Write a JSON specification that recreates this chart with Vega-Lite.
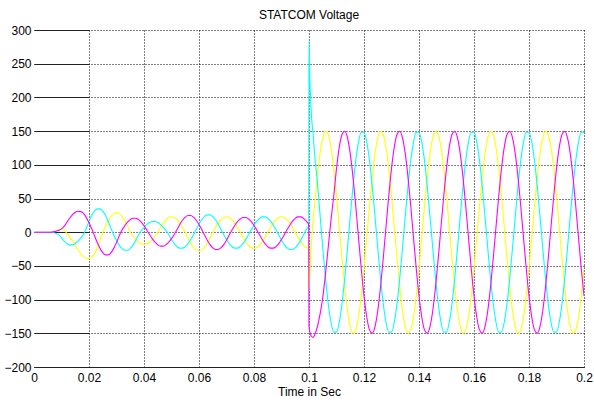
{
  "$schema": "https://vega.github.io/schema/vega-lite/v6.json",
  "width": 550,
  "height": 337,
  "autosize": "none",
  "padding": {"left": 34, "top": 30, "right": 10, "bottom": 36},
  "background": "white",
  "title": {"text": "STATCOM Voltage", "font": "Liberation Sans", "fontSize": 12, "fontWeight": "normal", "color": "#000", "anchor": "middle", "offset": 2},
  "data": {"values": [
    {"t":0,"M":0,"C":0,"Y":0},{"t":0.001,"M":0,"C":0,"Y":0},{"t":0.002,"M":0,"C":0,"Y":0},{"t":0.003,"M":0,"C":0,"Y":0},
    {"t":0.004,"M":0,"C":0,"Y":0},{"t":0.005,"M":0,"C":0,"Y":0},{"t":0.006,"M":0,"C":0,"Y":0},
    {"t":0.007,"M":0.5,"C":-0.5,"Y":0.3},{"t":0.008,"M":1.5,"C":-2,"Y":1.5},{"t":0.009,"M":3,"C":-4,"Y":3.5},
    {"t":0.010,"M":5,"C":-8,"Y":5},{"t":0.011,"M":9,"C":-13.4,"Y":3},{"t":0.012,"M":15,"C":-16.9,"Y":-2},
    {"t":0.013,"M":21,"C":-18.8,"Y":-7},{"t":0.014,"M":26,"C":-18.8,"Y":-13},{"t":0.015,"M":29.5,"C":-16.9,"Y":-19},
    {"t":0.016,"M":31,"C":-13.4,"Y":-26},{"t":0.017,"M":30.5,"C":-8.6,"Y":-32},{"t":0.018,"M":28,"C":-3,"Y":-36.5},
    {"t":0.019,"M":22,"C":5.5,"Y":-38.7},{"t":0.020,"M":14,"C":15.9,"Y":-39},{"t":0.021,"M":5,"C":24.7,"Y":-37},
    {"t":0.022,"M":-5.3,"C":31.2,"Y":-31.5},{"t":0.023,"M":-15.4,"C":34.6,"Y":-23},{"t":0.024,"M":-24,"C":34.6,"Y":-12},
    {"t":0.025,"M":-30.3,"C":31.2,"Y":0},{"t":0.026,"M":-33.6,"C":24.7,"Y":9},{"t":0.027,"M":-33.6,"C":15.9,"Y":17.1},
    {"t":0.028,"M":-30.3,"C":5.5,"Y":23.5},{"t":0.029,"M":-24,"C":-4.2,"Y":27.6},{"t":0.030,"M":-15.4,"C":-12.3,"Y":29},
    {"t":0.031,"M":-5.3,"C":-19.1,"Y":27.6},{"t":0.032,"M":3.3,"C":-24.1,"Y":23.5},{"t":0.033,"M":9.5,"C":-26.7,"Y":17.1},
    {"t":0.034,"M":14.8,"C":-26.7,"Y":9},{"t":0.035,"M":18.7,"C":-24.1,"Y":0},{"t":0.036,"M":20.7,"C":-19.1,"Y":-5.6},
    {"t":0.037,"M":20.7,"C":-12.3,"Y":-10.6},{"t":0.038,"M":18.7,"C":-4.2,"Y":-14.6},{"t":0.039,"M":14.8,"C":2.5,"Y":-17.1},
    {"t":0.040,"M":9.5,"C":7.3,"Y":-18},{"t":0.041,"M":3.3,"C":11.3,"Y":-17.1},{"t":0.042,"M":-3.3,"C":14.3,"Y":-14.6},
    {"t":0.043,"M":-9.5,"C":15.8,"Y":-10.6},{"t":0.044,"M":-14.8,"C":15.8,"Y":-5.6},{"t":0.045,"M":-18.7,"C":14.3,"Y":0},
    {"t":0.046,"M":-20.7,"C":11.3,"Y":7.1},{"t":0.047,"M":-20.7,"C":7.3,"Y":13.5},{"t":0.048,"M":-18.7,"C":2.5,"Y":18.6},
    {"t":0.049,"M":-14.8,"C":-3.7,"Y":21.9},{"t":0.050,"M":-9.5,"C":-10.9,"Y":23},{"t":0.051,"M":-3.3,"C":-17,"Y":21.9},
    {"t":0.052,"M":3.9,"C":-21.4,"Y":18.6},{"t":0.053,"M":11.4,"C":-23.7,"Y":13.5},{"t":0.054,"M":17.7,"C":-23.7,"Y":7.1},
    {"t":0.055,"M":22.3,"C":-21.4,"Y":0},{"t":0.056,"M":24.7,"C":-17,"Y":-8.7},{"t":0.057,"M":24.7,"C":-10.9,"Y":-16.5},
    {"t":0.058,"M":22.3,"C":-3.7,"Y":-22.7},{"t":0.059,"M":17.7,"C":4.1,"Y":-26.6},{"t":0.060,"M":11.4,"C":11.8,"Y":-28},
    {"t":0.061,"M":3.9,"C":18.4,"Y":-26.6},{"t":0.062,"M":-4.1,"C":23.2,"Y":-22.7},{"t":0.063,"M":-11.8,"C":25.7,"Y":-16.5},
    {"t":0.064,"M":-18.4,"C":25.7,"Y":-8.7},{"t":0.065,"M":-23.2,"C":23.2,"Y":0},{"t":0.066,"M":-25.7,"C":18.4,"Y":7.1},
    {"t":0.067,"M":-25.7,"C":11.8,"Y":13.5},{"t":0.068,"M":-23.2,"C":4.1,"Y":18.6},{"t":0.069,"M":-18.4,"C":-3.7,"Y":21.9},
    {"t":0.070,"M":-11.8,"C":-10.9,"Y":23},{"t":0.071,"M":-4.1,"C":-17,"Y":21.9},{"t":0.072,"M":3.4,"C":-21.4,"Y":18.6},
    {"t":0.073,"M":10,"C":-23.7,"Y":13.5},{"t":0.074,"M":15.6,"C":-23.7,"Y":7.1},{"t":0.075,"M":19.6,"C":-21.4,"Y":0},
    {"t":0.076,"M":21.7,"C":-17,"Y":-7.4},{"t":0.077,"M":21.7,"C":-10.9,"Y":-14.1},{"t":0.078,"M":19.6,"C":-3.7,"Y":-19.4},
    {"t":0.079,"M":15.6,"C":3.6,"Y":-22.8},{"t":0.080,"M":10,"C":10.4,"Y":-24},{"t":0.081,"M":3.4,"C":16.3,"Y":-22.8},
    {"t":0.082,"M":-3.7,"C":20.5,"Y":-19.4},{"t":0.083,"M":-10.9,"C":22.7,"Y":-14.1},{"t":0.084,"M":-17,"C":22.7,"Y":-7.4},
    {"t":0.085,"M":-21.4,"C":20.5,"Y":0},{"t":0.086,"M":-23.7,"C":16.3,"Y":7.1},{"t":0.087,"M":-23.7,"C":10.4,"Y":13.5},
    {"t":0.088,"M":-21.4,"C":3.6,"Y":18.6},{"t":0.089,"M":-17,"C":-4.1,"Y":21.9},{"t":0.090,"M":-10.9,"C":-11.8,"Y":23},
    {"t":0.091,"M":-3.7,"C":-18.4,"Y":21.9},{"t":0.092,"M":3.6,"C":-23.2,"Y":18.6},{"t":0.093,"M":10.4,"C":-25.7,"Y":13.5},
    {"t":0.094,"M":16.3,"C":-25.7,"Y":7.1},{"t":0.095,"M":20.5,"C":-23.2,"Y":0},{"t":0.096,"M":22.7,"C":-18.4,"Y":-7.4},
    {"t":0.097,"M":22.7,"C":-11.8,"Y":-14.1},{"t":0.098,"M":20.5,"C":-4.1,"Y":-19.4},{"t":0.099,"M":16.3,"C":3.9,"Y":-22.8},
    {"t":0.0999,"M":11.1,"C":10.6,"Y":-24},
    {"t":0.1,"M":-140,"C":284,"Y":-86},
    {"t":0.1003,"C":228},
    {"t":0.1005,"M":-151,"Y":-46},
    {"t":0.1006,"C":196},
    {"t":0.101,"M":-155,"C":166,"Y":-8},
    {"t":0.1015,"M":-156,"C":146},
    {"t":0.102,"M":-153,"C":118,"Y":38.8},
    {"t":0.103,"M":-141,"C":76,"Y":81.7},
    {"t":0.104,"M":-122,"C":27,"Y":116.6},
    {"t":0.105,"M":-97,"C":-23.5,"Y":140},
    {"t":0.106,"M":-62,"C":-68.1,"Y":149.8},
    {"t":0.107,"M":-22,"C":-106.1,"Y":144.9},
    {"t":0.108,"M":18,"C":-133.6,"Y":125.8},
    {"t":0.109,"M":53.8,"C":-148.2,"Y":94.4},
    {"t":0.110,"C":-148.2,"M":94.4,"Y":53.8},{"t":0.111,"C":-133.6,"M":125.8,"Y":7.8},{"t":0.112,"C":-106.1,"M":144.9,"Y":-38.8},
    {"t":0.113,"C":-68.1,"M":149.8,"Y":-81.7},{"t":0.114,"C":-23.5,"M":140,"Y":-116.6},{"t":0.115,"C":23.5,"M":116.6,"Y":-140},
    {"t":0.116,"C":68.1,"M":81.7,"Y":-149.8},{"t":0.117,"C":106.1,"M":38.8,"Y":-144.9},{"t":0.118,"C":133.6,"M":-7.8,"Y":-125.8},
    {"t":0.119,"C":148.2,"M":-53.8,"Y":-94.4},
    {"t":0.120,"C":148.2,"M":-94.4,"Y":-53.8},{"t":0.121,"C":133.6,"M":-125.8,"Y":-7.8},{"t":0.122,"C":106.1,"M":-144.9,"Y":38.8},
    {"t":0.123,"C":68.1,"M":-149.8,"Y":81.7},{"t":0.124,"C":23.5,"M":-140,"Y":116.6},{"t":0.125,"C":-23.5,"M":-116.6,"Y":140},
    {"t":0.126,"C":-68.1,"M":-81.7,"Y":149.8},{"t":0.127,"C":-106.1,"M":-38.8,"Y":144.9},{"t":0.128,"C":-133.6,"M":7.8,"Y":125.8},
    {"t":0.129,"C":-148.2,"M":53.8,"Y":94.4},
    {"t":0.130,"C":-148.2,"M":94.4,"Y":53.8},{"t":0.131,"C":-133.6,"M":125.8,"Y":7.8},{"t":0.132,"C":-106.1,"M":144.9,"Y":-38.8},
    {"t":0.133,"C":-68.1,"M":149.8,"Y":-81.7},{"t":0.134,"C":-23.5,"M":140,"Y":-116.6},{"t":0.135,"C":23.5,"M":116.6,"Y":-140},
    {"t":0.136,"C":68.1,"M":81.7,"Y":-149.8},{"t":0.137,"C":106.1,"M":38.8,"Y":-144.9},{"t":0.138,"C":133.6,"M":-7.8,"Y":-125.8},
    {"t":0.139,"C":148.2,"M":-53.8,"Y":-94.4},
    {"t":0.140,"C":148.2,"M":-94.4,"Y":-53.8},{"t":0.141,"C":133.6,"M":-125.8,"Y":-7.8},{"t":0.142,"C":106.1,"M":-144.9,"Y":38.8},
    {"t":0.143,"C":68.1,"M":-149.8,"Y":81.7},{"t":0.144,"C":23.5,"M":-140,"Y":116.6},{"t":0.145,"C":-23.5,"M":-116.6,"Y":140},
    {"t":0.146,"C":-68.1,"M":-81.7,"Y":149.8},{"t":0.147,"C":-106.1,"M":-38.8,"Y":144.9},{"t":0.148,"C":-133.6,"M":7.8,"Y":125.8},
    {"t":0.149,"C":-148.2,"M":53.8,"Y":94.4},
    {"t":0.150,"C":-148.2,"M":94.4,"Y":53.8},{"t":0.151,"C":-133.6,"M":125.8,"Y":7.8},{"t":0.152,"C":-106.1,"M":144.9,"Y":-38.8},
    {"t":0.153,"C":-68.1,"M":149.8,"Y":-81.7},{"t":0.154,"C":-23.5,"M":140,"Y":-116.6},{"t":0.155,"C":23.5,"M":116.6,"Y":-140},
    {"t":0.156,"C":68.1,"M":81.7,"Y":-149.8},{"t":0.157,"C":106.1,"M":38.8,"Y":-144.9},{"t":0.158,"C":133.6,"M":-7.8,"Y":-125.8},
    {"t":0.159,"C":148.2,"M":-53.8,"Y":-94.4},
    {"t":0.160,"C":148.2,"M":-94.4,"Y":-53.8},{"t":0.161,"C":133.6,"M":-125.8,"Y":-7.8},{"t":0.162,"C":106.1,"M":-144.9,"Y":38.8},
    {"t":0.163,"C":68.1,"M":-149.8,"Y":81.7},{"t":0.164,"C":23.5,"M":-140,"Y":116.6},{"t":0.165,"C":-23.5,"M":-116.6,"Y":140},
    {"t":0.166,"C":-68.1,"M":-81.7,"Y":149.8},{"t":0.167,"C":-106.1,"M":-38.8,"Y":144.9},{"t":0.168,"C":-133.6,"M":7.8,"Y":125.8},
    {"t":0.169,"C":-148.2,"M":53.8,"Y":94.4},
    {"t":0.170,"C":-148.2,"M":94.4,"Y":53.8},{"t":0.171,"C":-133.6,"M":125.8,"Y":7.8},{"t":0.172,"C":-106.1,"M":144.9,"Y":-38.8},
    {"t":0.173,"C":-68.1,"M":149.8,"Y":-81.7},{"t":0.174,"C":-23.5,"M":140,"Y":-116.6},{"t":0.175,"C":23.5,"M":116.6,"Y":-140},
    {"t":0.176,"C":68.1,"M":81.7,"Y":-149.8},{"t":0.177,"C":106.1,"M":38.8,"Y":-144.9},{"t":0.178,"C":133.6,"M":-7.8,"Y":-125.8},
    {"t":0.179,"C":148.2,"M":-53.8,"Y":-94.4},
    {"t":0.180,"C":148.2,"M":-94.4,"Y":-53.8},{"t":0.181,"C":133.6,"M":-125.8,"Y":-7.8},{"t":0.182,"C":106.1,"M":-144.9,"Y":38.8},
    {"t":0.183,"C":68.1,"M":-149.8,"Y":81.7},{"t":0.184,"C":23.5,"M":-140,"Y":116.6},{"t":0.185,"C":-23.5,"M":-116.6,"Y":140},
    {"t":0.186,"C":-68.1,"M":-81.7,"Y":149.8},{"t":0.187,"C":-106.1,"M":-38.8,"Y":144.9},{"t":0.188,"C":-133.6,"M":7.8,"Y":125.8},
    {"t":0.189,"C":-148.2,"M":53.8,"Y":94.4},
    {"t":0.190,"C":-148.2,"M":94.4,"Y":53.8},{"t":0.191,"C":-133.6,"M":125.8,"Y":7.8},{"t":0.192,"C":-106.1,"M":144.9,"Y":-38.8},
    {"t":0.193,"C":-68.1,"M":149.8,"Y":-81.7},{"t":0.194,"C":-23.5,"M":140,"Y":-116.6},{"t":0.195,"C":23.5,"M":116.6,"Y":-140},
    {"t":0.196,"C":68.1,"M":81.7,"Y":-149.8},{"t":0.197,"C":106.1,"M":38.8,"Y":-144.9},{"t":0.198,"C":133.6,"M":-7.8,"Y":-125.8},
    {"t":0.199,"C":148.2,"M":-53.8,"Y":-94.4},
    {"t":0.200,"C":148.2,"M":-94.4,"Y":-53.8}
  ]},
  "transform": [
    {"fold": ["Y", "C", "M"], "as": ["s", "v"]},
    {"filter": "isValid(datum.v)"}
  ],
  "mark": {"type": "line", "strokeWidth": 1.1, "interpolate": "monotone", "clip": true},
  "encoding": {
    "x": {
      "field": "t", "type": "quantitative",
      "scale": {"domain": [0, 0.2], "nice": false, "zero": false},
      "axis": {
        "values": [0, 0.02, 0.04, 0.06, 0.08, 0.1, 0.12, 0.14, 0.16, 0.18, 0.2],
        "format": "~g",
        "title": "Time in Sec",
        "domain": true, "domainColor": "#222", "domainWidth": 1,
        "ticks": false,
        "labelPadding": 5, "labelFont": "Liberation Sans", "labelFontSize": 12, "labelColor": "#000", "labelFlush": false,
        "titleFont": "Liberation Sans", "titleFontSize": 12, "titleFontWeight": "normal", "titleColor": "#000", "titlePadding": 3,
        "grid": true, "gridColor": "#000", "gridDash": [1, 2], "gridWidth": 1,
        "gridOpacity": {"condition": {"test": "datum.value === 0", "value": 0}, "value": 1}
      }
    },
    "y": {
      "field": "v", "type": "quantitative",
      "scale": {"domain": [-200, 300], "nice": false, "zero": false},
      "axis": {
        "values": [-200, -150, -100, -50, 0, 50, 100, 150, 200, 250, 300],
        "title": null,
        "domain": false,
        "ticks": true, "tickSize": 55, "tickColor": "#222", "tickWidth": 1, "offset": -55,
        "labelPadding": 3, "labelFont": "Liberation Sans", "labelFontSize": 12, "labelColor": "#000",
        "grid": true, "gridColor": "#000", "gridDash": [1, 2], "gridWidth": 1, "gridOpacity": 1
      }
    },
    "color": {
      "field": "s", "type": "nominal",
      "scale": {"domain": ["Y", "C", "M"], "range": ["#ffff00", "#00ffff", "#ff00ff"]},
      "legend": null
    }
  },
  "config": {"view": {"stroke": null}}
}
